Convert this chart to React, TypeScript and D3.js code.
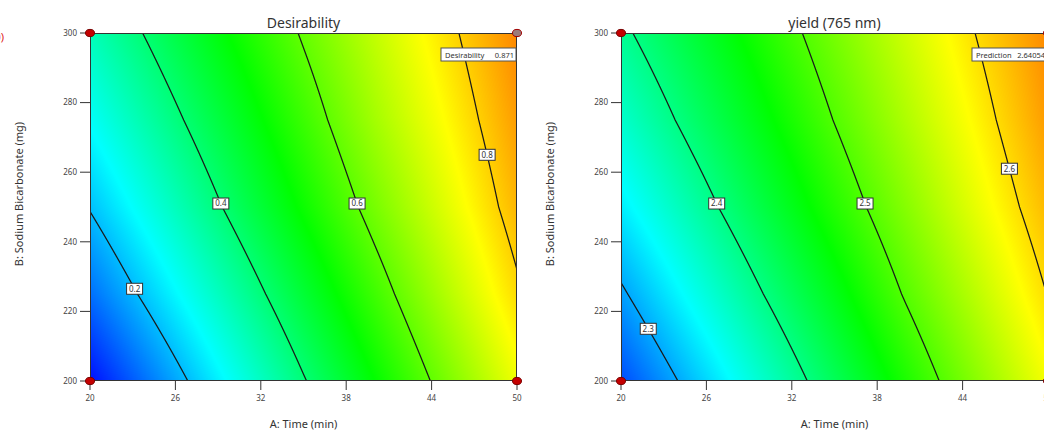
import React, { useMemo } from "react";
import * as d3 from "d3";

// grid of the two response surfaces
const A_VALUES = [20, 25, 30, 35, 40, 45, 50];
const B_VALUES = [200, 225, 250, 275, 300];

const DESIRABILITY = [
  [0.034, 0.155, 0.275, 0.395, 0.51, 0.625, 0.74],
  [0.126, 0.237, 0.348, 0.459, 0.569, 0.68, 0.79],
  [0.204, 0.309, 0.415, 0.52, 0.624, 0.725, 0.826],
  [0.271, 0.369, 0.467, 0.566, 0.666, 0.757, 0.85],
  [0.332, 0.424, 0.516, 0.607, 0.696, 0.784, 0.871],
];

const YIELD = [
  [2.256, 2.311, 2.366, 2.421, 2.475, 2.528, 2.58],
  [2.295, 2.348, 2.4, 2.451, 2.503, 2.552, 2.601],
  [2.333, 2.382, 2.431, 2.479, 2.526, 2.573, 2.618],
  [2.365, 2.411, 2.456, 2.501, 2.545, 2.588, 2.632],
  [2.393, 2.435, 2.477, 2.519, 2.56, 2.601, 2.641],
];

const X_TICKS = [20, 26, 32, 38, 44, 50];
const Y_TICKS = [200, 220, 240, 260, 280, 300];

const DES_LEVELS = [0.2, 0.4, 0.6, 0.8];
const DES_LABEL_B = [226.5, 251, 251, 265];
const YIELD_LEVELS = [2.3, 2.4, 2.5, 2.6];
const YIELD_LABEL_B = [215, 251, 251, 261];

const DES_COLOR_RANGE = [0.02, 1.0];
const YIELD_COLOR_RANGE = [2.22, 2.705];

const COLOR_STOPS = ["#0000ff", "#00ffff", "#00ff00", "#ffff00", "#ff0000"];

const FONT = "'Noto Sans', 'Open Sans', sans-serif";
const PLOT_W = 427;
const PLOT_TOP = 33;
const PLOT_BOTTOM = 381;

function makeField(grid: number[][]) {
  return (a: number, b: number) => {
    const i = Math.max(0, Math.min(A_VALUES.length - 2, d3.bisectRight(A_VALUES, a) - 1));
    const j = Math.max(0, Math.min(B_VALUES.length - 2, d3.bisectRight(B_VALUES, b) - 1));
    const ta = (a - A_VALUES[i]) / (A_VALUES[i + 1] - A_VALUES[i]);
    const tb = (b - B_VALUES[j]) / (B_VALUES[j + 1] - B_VALUES[j]);
    const v0 = grid[j][i] * (1 - ta) + grid[j][i + 1] * ta;
    const v1 = grid[j + 1][i] * (1 - ta) + grid[j + 1][i + 1] * ta;
    return v0 * (1 - tb) + v1 * tb;
  };
}

// A where the row at B crosses the level
function crossing(field: (a: number, b: number) => number, level: number, b: number) {
  const vals = A_VALUES.map(a => field(a, b));
  for (let k = 0; k < vals.length - 1; k++) {
    if ((vals[k] - level) * (vals[k + 1] - level) <= 0 && vals[k] !== vals[k + 1]) {
      return A_VALUES[k] + ((level - vals[k]) / (vals[k + 1] - vals[k])) * (A_VALUES[k + 1] - A_VALUES[k]);
    }
  }
  return null;
}

interface PanelProps {
  id: string;
  left: number;
  title: string;
  grid: number[][];
  levels: number[];
  labelB: number[];
  colorRange: number[];
  flagLabel: string;
  flagValue: string;
}

const ContourPanel: React.FC<PanelProps> = ({ id, left, title, grid, levels, labelB, colorRange, flagLabel, flagValue }) => {
  const x = d3.scaleLinear().domain([20, 50]).range([left, left + PLOT_W]);
  const y = d3.scaleLinear().domain([200, 300]).range([PLOT_BOTTOM, PLOT_TOP]);
  const field = useMemo(() => makeField(grid), [grid]);

  const color = d3
    .scaleLinear<string>()
    .domain(d3.range(5).map(i => colorRange[0] + ((colorRange[1] - colorRange[0]) * i) / 4))
    .range(COLOR_STOPS)
    .interpolate(d3.interpolateRgb)
    .clamp(true);

  const heatmap = useMemo(() => {
    const w = PLOT_W;
    const h = PLOT_BOTTOM - PLOT_TOP;
    const canvas = document.createElement("canvas");
    canvas.width = w;
    canvas.height = h;
    const ctx = canvas.getContext("2d");
    if (!ctx) return "";
    // lookup table so we don't parse colour strings per pixel
    const lut = d3.range(512).map(k => {
      const c = d3.rgb(color(colorRange[0] + ((colorRange[1] - colorRange[0]) * k) / 511));
      return [c.r, c.g, c.b];
    });
    const img = ctx.createImageData(w, h);
    for (let py = 0; py < h; py++) {
      const b = y.invert(PLOT_TOP + py + 0.5);
      for (let px = 0; px < w; px++) {
        const a = x.invert(left + px + 0.5);
        const t = (field(a, b) - colorRange[0]) / (colorRange[1] - colorRange[0]);
        const c = lut[Math.max(0, Math.min(511, Math.round(t * 511)))];
        const o = (py * w + px) * 4;
        img.data[o] = c[0];
        img.data[o + 1] = c[1];
        img.data[o + 2] = c[2];
        img.data[o + 3] = 255;
      }
    }
    ctx.putImageData(img, 0, 0);
    return canvas.toDataURL();
  }, [grid, left]);

  const line = d3
    .line<[number, number]>()
    .x(d => x(d[0]))
    .y(d => y(d[1]));

  const bSteps = d3.range(200, 300.001, 0.1);
  const contourLines = levels.map(level => {
    const pts: [number, number][] = [];
    bSteps.forEach(b => {
      const a = crossing(field, level, b);
      if (a !== null && a >= 20 && a <= 50) pts.push([a, b]);
    });
    return pts;
  });

  const corners: [number, number][] = [
    [20, 200],
    [20, 300],
    [50, 200],
    [50, 300],
  ];

  const flagW = 75;
  const flagH = 13;

  return (
    <g>
      <defs>
        <clipPath id={`clip-${id}`}>
          <rect x={left} y={PLOT_TOP} width={PLOT_W} height={PLOT_BOTTOM - PLOT_TOP} />
        </clipPath>
      </defs>
      <image href={heatmap} x={left} y={PLOT_TOP} width={PLOT_W} height={PLOT_BOTTOM - PLOT_TOP} preserveAspectRatio="none" />
      <g clipPath={`url(#clip-${id})`}>
        {contourLines.map((pts, i) => (
          <path key={i} d={line(pts) || ""} fill="none" stroke="#1a1a1a" strokeWidth={1.25} />
        ))}
      </g>
      {levels.map((level, i) => {
        const a = crossing(field, level, labelB[i]);
        if (a === null) return null;
        const cx = x(a);
        const cy = y(labelB[i]);
        return (
          <g key={`lab${i}`}>
            <rect x={cx - 8} y={cy - 5.5} width={16} height={11} fill="#fff" stroke="#333" strokeWidth={1} />
            <text x={cx} y={cy + 2.8} textAnchor="middle" fontSize={8} fontFamily={FONT} fill="#333">
              {String(level)}
            </text>
          </g>
        );
      })}
      <rect x={left + 0.5} y={PLOT_TOP + 0.5} width={PLOT_W - 1} height={PLOT_BOTTOM - PLOT_TOP - 1} fill="none" stroke="#333" strokeWidth={1} />
      {Y_TICKS.map(t => (
        <g key={`y${t}`}>
          <line x1={left - 10} x2={left} y1={y(t)} y2={y(t)} stroke="#333" />
          <text x={left - 13} y={y(t) + 2.8} textAnchor="end" fontSize={8} fontFamily={FONT} fill="#444">
            {t}
          </text>
        </g>
      ))}
      {X_TICKS.map(t => (
        <g key={`x${t}`}>
          <line x1={x(t)} x2={x(t)} y1={PLOT_BOTTOM} y2={PLOT_BOTTOM + 9} stroke="#333" />
          <text x={x(t)} y={PLOT_BOTTOM + 20} textAnchor="middle" fontSize={8} fontFamily={FONT} fill="#444">
            {t}
          </text>
        </g>
      ))}
      <rect x={x(50) - flagW - 1} y={y(300) + 15} width={flagW} height={flagH} fill="#fff" stroke="#555" strokeWidth={1} />
      <text x={x(50) - flagW + 3} y={y(300) + 24.5} fontSize={7.5} fontFamily={FONT} fill="#333">
        {flagLabel}
      </text>
      <text x={x(50) - 3} y={y(300) + 24.5} textAnchor="end" fontSize={7.5} fontFamily={FONT} fill="#333">
        {flagValue}
      </text>
      {corners.map(([a, b], i) => {
        const flagged = a === 50 && b === 300;
        return (
          <ellipse
            key={`c${i}`}
            cx={x(a)}
            cy={y(b)}
            rx={4.5}
            ry={3.6}
            fill={flagged ? "#9a7c7c" : "#c40000"}
            stroke={flagged ? "#a00000" : "#7a0000"}
            strokeWidth={1}
          />
        );
      })}
      <text x={(x(20) + x(50)) / 2} y={28} textAnchor="middle" fontSize={14} fontFamily={FONT} fill="#333">
        {title}
      </text>
      <text x={(x(20) + x(50)) / 2} y={428} textAnchor="middle" fontSize={11} fontFamily={FONT} fill="#333">
        A: Time (min)
      </text>
      <text
        transform={`translate(${left - 67},${(PLOT_TOP + PLOT_BOTTOM) / 2 - 13}) rotate(-90)`}
        textAnchor="middle"
        fontSize={11}
        fontFamily={FONT}
        fill="#333"
      >
        B: Sodium Bicarbonate (mg)
      </text>
    </g>
  );
};

export default function App() {
  return (
    <div style={{ position: "absolute", left: 0, top: 0 }}>
      <svg width={1044} height={430} style={{ display: "block", background: "#fff" }}>
        <text x={4} y={41} textAnchor="end" fontSize={11} fontFamily={FONT} fill="#e02020">
          0)
        </text>
        <ContourPanel
          id="des"
          left={90}
          title="Desirability"
          grid={DESIRABILITY}
          levels={DES_LEVELS}
          labelB={DES_LABEL_B}
          colorRange={DES_COLOR_RANGE}
          flagLabel="Desirability"
          flagValue="0.871"
        />
        <ContourPanel
          id="yield"
          left={621}
          title="yield (765 nm)"
          grid={YIELD}
          levels={YIELD_LEVELS}
          labelB={YIELD_LABEL_B}
          colorRange={YIELD_COLOR_RANGE}
          flagLabel="Prediction"
          flagValue="2.64054"
        />
      </svg>
    </div>
  );
}
